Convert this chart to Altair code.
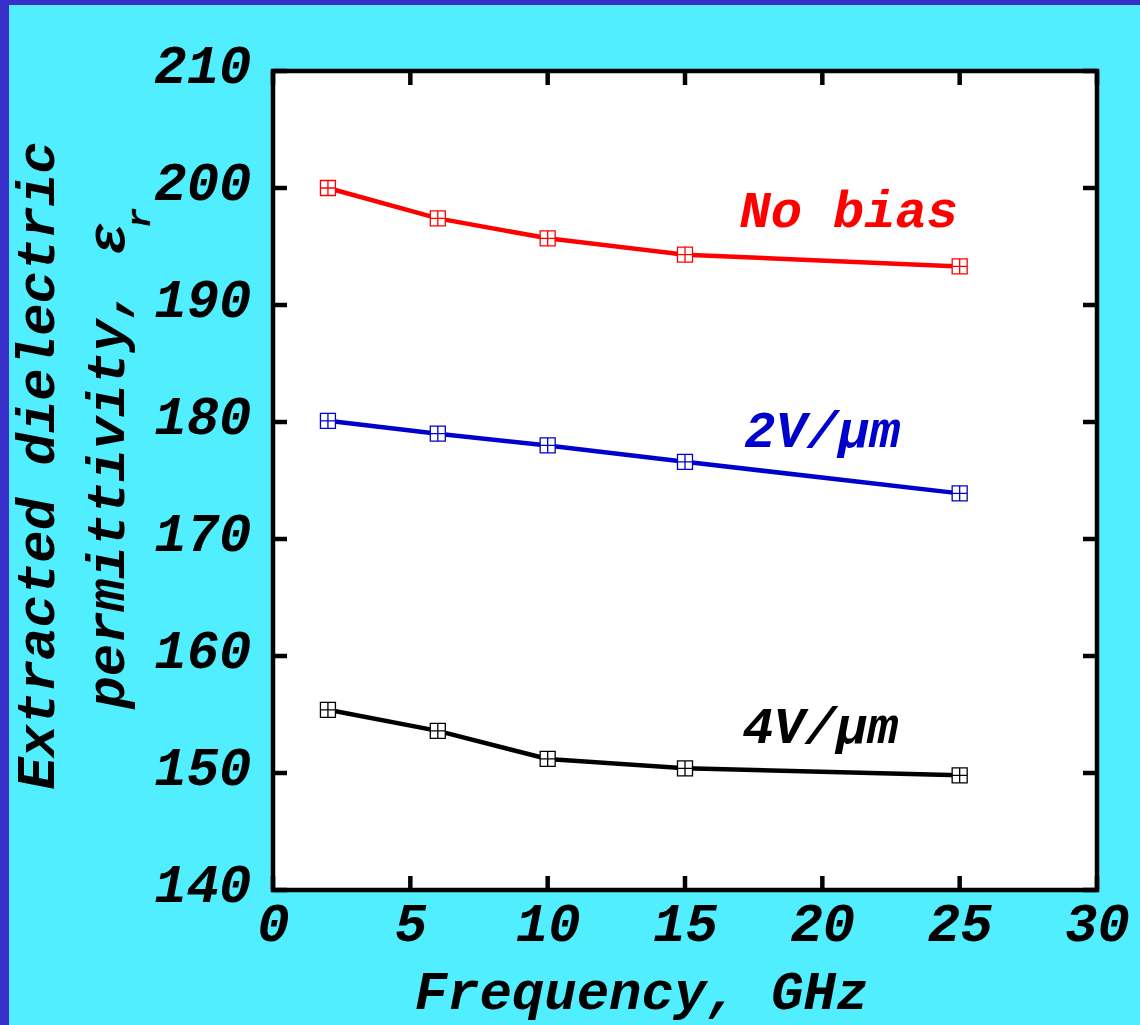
import altair as alt
import pandas as pd

# Measured permittivity versus frequency for three bias fields
freq = [2, 6, 10, 15, 25]
no_bias = [200.0, 197.4, 195.7, 194.3, 193.3]
bias_2 = [180.1, 179.0, 178.0, 176.6, 173.9]
bias_4 = [155.4, 153.6, 151.2, 150.4, 149.8]

series_names = ["No bias", "2V/μm", "4V/μm"]
series_colors = ["#FF0000", "#0000CC", "#000000"]

# Inline series labels (data coordinates)
label_x = [20.96, 20.0, 19.93]
label_y = [196.7, 177.9, 152.6]

x_ticks = [0, 5, 10, 15, 20, 25, 30]
y_ticks = [140, 150, 160, 170, 180, 190, 200, 210]

W, H = 824, 819
FONT = "Liberation Mono"
BG = "#50EEFF"
EDGE = "#3830C8"

rows = []
for name, vals in zip(series_names, [no_bias, bias_2, bias_4]):
    for f, v in zip(freq, vals):
        rows.append({"series": name, "freq": f, "eps": v})
df = pd.DataFrame(rows)

labels_df = pd.DataFrame({"series": series_names, "lx": label_x, "ly": label_y})
xt_df = pd.DataFrame({"freq": x_ticks})
yt_df = pd.DataFrame({"eps": y_ticks})
one = pd.DataFrame({"k": [0]})

xscale = alt.Scale(domain=[0, 30], nice=False, zero=False)
yscale = alt.Scale(domain=[140, 210], nice=False, zero=False)
cscale = alt.Scale(domain=series_names, range=series_colors)

x_axis = alt.Axis(
    values=x_ticks, grid=False, domain=False, ticks=False, tickSize=0,
    labelFont=FONT, labelFontSize=54, labelFontWeight="bold", labelFontStyle="italic",
    labelColor="black", labelPadding=7, labelFlush=False, labelOverlap=False,
    title="Frequency, GHz", titleFont=FONT, titleFontSize=54, titleFontWeight="bold",
    titleFontStyle="italic", titleColor="black", titleX=368, titleY=118,
    titleAlign="center", titleBaseline="alphabetic", titleAnchor="start",
)
y_axis = alt.Axis(
    values=y_ticks, grid=False, domain=False, ticks=False, tickSize=0,
    labelFont=FONT, labelFontSize=54, labelFontWeight="bold", labelFontStyle="italic",
    labelColor="black", labelPadding=22, labelOffset=-5, labelFlush=False, labelOverlap=False,
    title=["Extracted dielectric", "permittivity, ε"], titleFont=FONT, titleFontSize=54,
    titleFontWeight="bold", titleFontStyle="italic", titleColor="black",
    titleAngle=270, titleX=-220, titleY=394, titleAlign="center",
    titleBaseline="alphabetic", titleLineHeight=70, titleAnchor="start",
)

X = alt.X("freq:Q", scale=xscale, axis=x_axis)
Y = alt.Y("eps:Q", scale=yscale, axis=y_axis)

lines = alt.Chart(df).mark_line(strokeWidth=4.5).encode(
    x=X, y=Y,
    color=alt.Color("series:N", scale=cscale, legend=None),
    detail="series:N",
)

marker_path = "M-1,-1H1V1H-1Z M0,-1V1 M-1,0H1"
points = alt.Chart(df).mark_point(
    shape=marker_path, size=225, fill="white", fillOpacity=1, opacity=1, strokeWidth=1.3
).encode(
    x=X, y=Y,
    stroke=alt.Stroke("series:N", scale=cscale, legend=None),
)

labels = alt.Chart(labels_df).mark_text(
    font=FONT, fontSize=52, fontWeight="bold", fontStyle="italic",
    align="center", baseline="alphabetic",
).encode(
    x=alt.X("lx:Q", scale=xscale, axis=x_axis),
    y=alt.Y("ly:Q", scale=yscale, axis=y_axis),
    text="series:N",
    color=alt.Color("series:N", scale=cscale, legend=None),
)

# Inward tick marks on all four sides of the frame
TL = 14
tick_style = dict(color="black", strokeWidth=4.5)
xt_bottom = alt.Chart(xt_df).mark_rule(**tick_style).encode(
    x=X, y=alt.value(H), y2=alt.value(H - TL))
xt_top = alt.Chart(xt_df).mark_rule(**tick_style).encode(
    x=X, y=alt.value(0), y2=alt.value(TL))
yt_left = alt.Chart(yt_df).mark_rule(**tick_style).encode(
    y=Y, x=alt.value(0), x2=alt.value(TL))
yt_right = alt.Chart(yt_df).mark_rule(**tick_style).encode(
    y=Y, x=alt.value(W), x2=alt.value(W - TL))

# Subscript r of the y-axis symbol
sub_r = alt.Chart(one).mark_text(
    text="r", font=FONT, fontSize=34, fontWeight="bold", fontStyle="italic",
    angle=270, align="center", baseline="alphabetic", color="black",
).encode(x=alt.value(-123), y=alt.value(147))

# Blue edge strips along the left and top of the figure
edge_left = alt.Chart(one).mark_rect(color=EDGE).encode(
    x=alt.value(-273), x2=alt.value(-264), y=alt.value(-71), y2=alt.value(H + 135))
edge_top = alt.Chart(one).mark_rect(color=EDGE).encode(
    x=alt.value(-273), x2=alt.value(W + 43), y=alt.value(-71), y2=alt.value(-66))

chart = alt.layer(
    lines, points, labels,
    xt_bottom, xt_top, yt_left, yt_right, sub_r, edge_left, edge_top,
).properties(
    width=W, height=H,
    background=BG,
    autosize=alt.AutoSizeParams(type="none"),
    padding={"left": 273, "top": 71, "right": 43, "bottom": 135},
).configure_view(
    stroke="black", strokeWidth=4.5, fill="white",
)

chart.save("out.html", embed_options={"renderer": "svg", "actions": False})
